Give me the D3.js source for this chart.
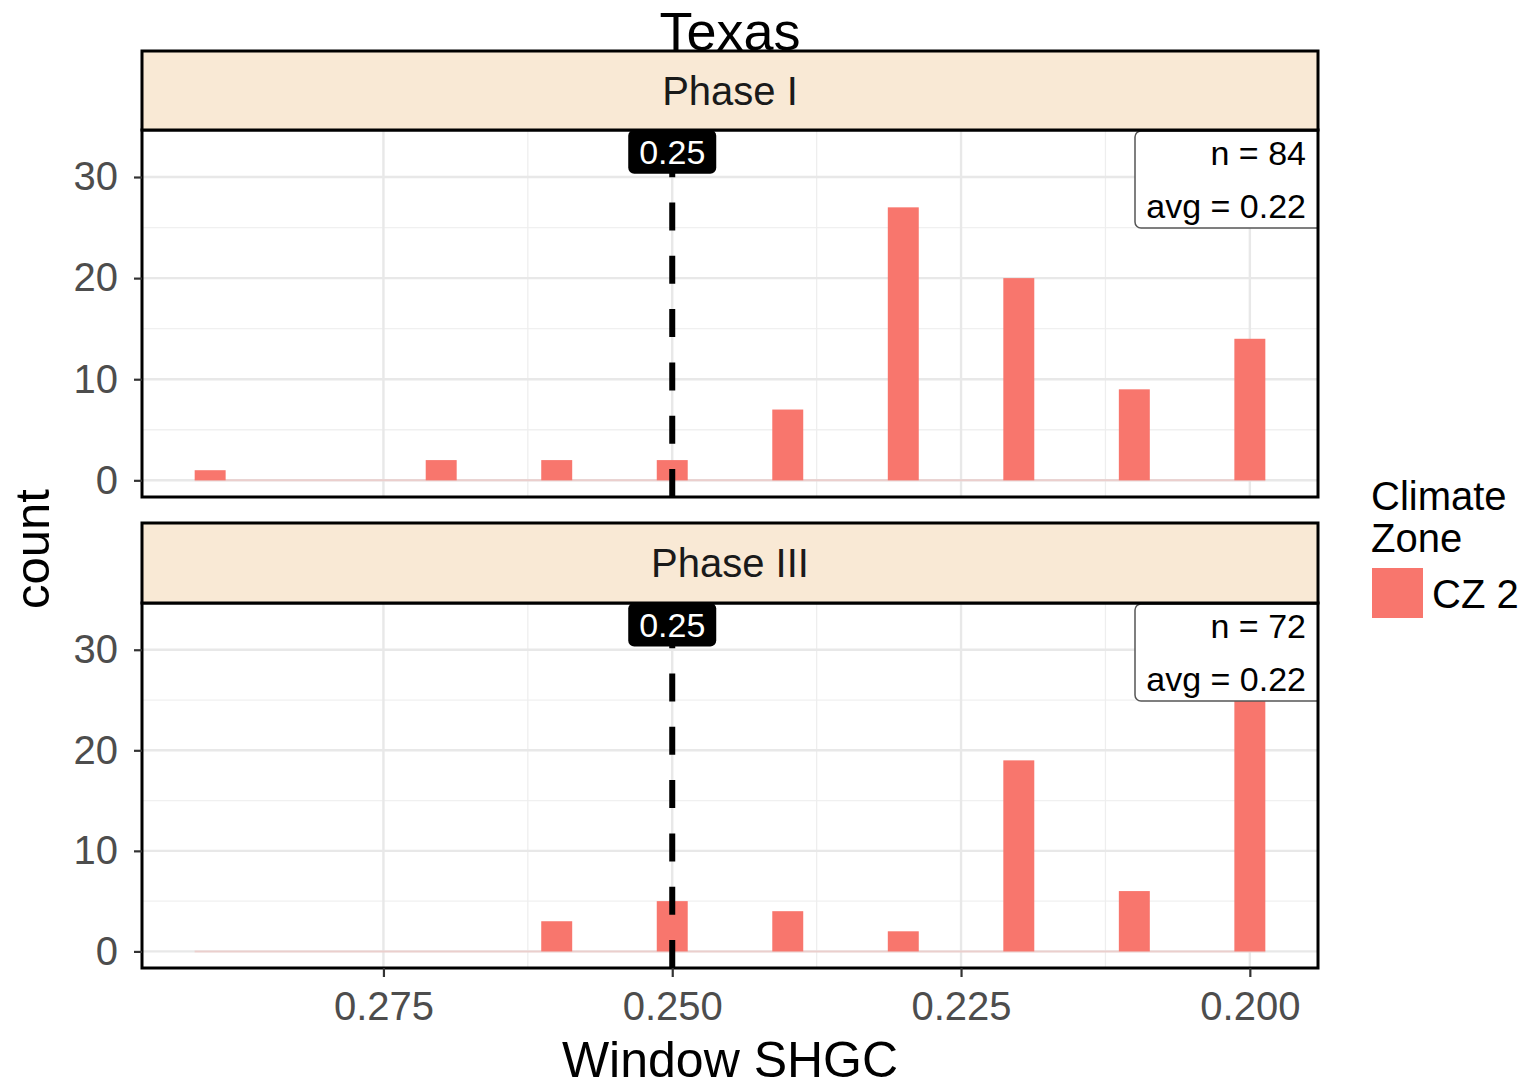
<!DOCTYPE html>
<html>
<head>
<meta charset="utf-8">
<script src="https://cdn.jsdelivr.net/npm/d3@7"></script>
<style>
  html, body { margin: 0; padding: 0; background: #fff; }
  svg { display: block; font-family: "Liberation Sans", Arial, sans-serif; }
</style>
</head>
<body>
<svg id="chart" width="1527" height="1089"></svg>
<script>
// Window SHGC histogram, Texas, faceted by code phase
const shgcBins = [0.29, 0.28, 0.27, 0.26, 0.25, 0.24, 0.23, 0.22, 0.21, 0.20];
const phaseNames = ["Phase I", "Phase III"];
const countsPhaseI = [1, 0, 2, 2, 2, 7, 27, 20, 9, 14];
const countsPhaseIII = [0, 0, 0, 3, 5, 4, 2, 19, 6, 33];
const codeLimit = 0.25;
const xTicks = [0.275, 0.250, 0.225, 0.200];
const xMinor = [0.2625, 0.2375, 0.2125];
const yTicks = [0, 10, 20, 30];
const yMinor = [5, 15, 25];
const legendTitle = ["Climate", "Zone"];
const legendLabel = "CZ 2";

const panels = [
  { name: phaseNames[0], counts: countsPhaseI, stripTop: 51, top: 130, bottom: 497 },
  { name: phaseNames[1], counts: countsPhaseIII, stripTop: 523, top: 603, bottom: 968 }
];

const fill = "#F8766D";
const left = 142, right = 1318;
const halfW = 0.00134;

const svg = d3.select("#chart");
const defs = svg.append("defs");
const x = d3.scaleLinear().domain([0.2959, 0.1941]).range([left, right]);

panels.forEach((p, pi) => {
  const y = d3.scaleLinear().domain([-1.65, 34.65]).range([p.bottom, p.top]);
  const g = svg.append("g");
  const n = d3.sum(p.counts);
  const avg = d3.sum(p.counts, (c, i) => c * shgcBins[i]) / n;

  const clipId = "panel-clip-" + pi;
  defs.append("clipPath").attr("id", clipId).append("rect")
    .attr("x", left).attr("y", p.top).attr("width", right - left).attr("height", p.bottom - p.top);
  const inner = g.append("g").attr("clip-path", `url(#${clipId})`);

  // panel background
  inner.append("rect").attr("x", left).attr("y", p.top)
    .attr("width", right - left).attr("height", p.bottom - p.top).attr("fill", "#fff");

  // minor grid
  inner.selectAll(".ymin").data(yMinor).join("line")
    .attr("x1", left).attr("x2", right).attr("y1", d => y(d)).attr("y2", d => y(d))
    .attr("stroke", "#f0f0f0").attr("stroke-width", 1.3);
  inner.selectAll(".xmin").data(xMinor).join("line")
    .attr("y1", p.top).attr("y2", p.bottom).attr("x1", d => x(d)).attr("x2", d => x(d))
    .attr("stroke", "#eeeeee").attr("stroke-width", 1.3);
  // major grid
  inner.selectAll(".ymaj").data(yTicks).join("line")
    .attr("x1", left).attr("x2", right).attr("y1", d => y(d)).attr("y2", d => y(d))
    .attr("stroke", "#e8e8e8").attr("stroke-width", 2.4);
  inner.selectAll(".xmaj").data(xTicks).join("line")
    .attr("y1", p.top).attr("y2", p.bottom).attr("x1", d => x(d)).attr("x2", d => x(d))
    .attr("stroke", "#e8e8e8").attr("stroke-width", 2.4);

  // empty bins show as a flat line along zero
  inner.append("line")
    .attr("x1", x(shgcBins[0] + halfW)).attr("x2", x(shgcBins[shgcBins.length - 1] - halfW))
    .attr("y1", y(0)).attr("y2", y(0))
    .attr("stroke", fill).attr("stroke-opacity", 0.22).attr("stroke-width", 2);

  // bars
  inner.selectAll(".bar").data(shgcBins.map((b, i) => ({ b, c: p.counts[i] })).filter(d => d.c > 0))
    .join("rect")
    .attr("x", d => x(d.b + halfW))
    .attr("width", d => x(d.b - halfW) - x(d.b + halfW))
    .attr("y", d => y(d.c))
    .attr("height", d => y(0) - y(d.c))
    .attr("fill", fill);

  // code limit line
  inner.append("line")
    .attr("x1", x(codeLimit)).attr("x2", x(codeLimit))
    .attr("y1", p.bottom).attr("y2", p.top)
    .attr("stroke", "#000").attr("stroke-width", 6)
    .attr("stroke-dasharray", "28 25.3");

  // limit label
  const ly = y(32.5);
  inner.append("rect")
    .attr("x", x(codeLimit) - 44).attr("y", ly - 22)
    .attr("width", 88).attr("height", 44).attr("rx", 6)
    .attr("fill", "#000");
  inner.append("text")
    .attr("x", x(codeLimit)).attr("y", ly + 12)
    .attr("text-anchor", "middle").attr("font-size", 34).attr("fill", "#fff")
    .text(codeLimit.toFixed(2));

  // n / avg box
  inner.append("rect")
    .attr("x", 1135).attr("y", p.top + 1)
    .attr("width", right - 1135 + 8).attr("height", 97).attr("rx", 6)
    .attr("fill", "#fff").attr("stroke", "#555").attr("stroke-width", 1.5);
  inner.append("text").attr("x", 1306).attr("y", p.top + 35)
    .attr("text-anchor", "end").attr("font-size", 34).attr("fill", "#000")
    .text("n = " + n);
  inner.append("text").attr("x", 1306).attr("y", p.top + 88)
    .attr("text-anchor", "end").attr("font-size", 34).attr("fill", "#000")
    .text("avg = " + avg.toFixed(2));

  // panel border
  g.append("rect").attr("x", left).attr("y", p.top)
    .attr("width", right - left).attr("height", p.bottom - p.top)
    .attr("fill", "none").attr("stroke", "#000").attr("stroke-width", 3);

  // strip
  g.append("rect").attr("x", left).attr("y", p.stripTop)
    .attr("width", right - left).attr("height", p.top - p.stripTop)
    .attr("fill", "#f9e9d5").attr("stroke", "#000").attr("stroke-width", 3);
  g.append("text")
    .attr("x", (left + right) / 2).attr("y", (p.stripTop + p.top) / 2 + 14)
    .attr("text-anchor", "middle").attr("font-size", 40).attr("fill", "#1a1a1a")
    .text(p.name);

  // y axis
  const ya = g.append("g").attr("transform", `translate(${left},0)`)
    .call(d3.axisLeft(y).tickValues(yTicks).tickSize(8).tickPadding(16).tickFormat(d3.format("d")));
  ya.select(".domain").remove();
  ya.selectAll(".tick line").attr("stroke", "#333").attr("stroke-width", 2.2);
  ya.selectAll(".tick text").attr("font-size", 40).attr("fill", "#4d4d4d")
    .attr("font-family", "Liberation Sans, Arial, sans-serif");
});

// x axis under the lower panel
const xa = svg.append("g").attr("transform", `translate(0,${panels[1].bottom})`)
  .call(d3.axisBottom(x).tickValues(xTicks).tickSize(9).tickPadding(15).tickFormat(d3.format(".3f")));
xa.select(".domain").remove();
xa.selectAll(".tick line").attr("stroke", "#333").attr("stroke-width", 2.2);
xa.selectAll(".tick text").attr("font-size", 40).attr("fill", "#4d4d4d")
  .attr("font-family", "Liberation Sans, Arial, sans-serif");

// titles (drawn last so the main title sits above the strip edge)
svg.append("text").attr("x", 730).attr("y", 50)
  .attr("text-anchor", "middle").attr("font-size", 54).attr("fill", "#000").text("Texas");
svg.append("text").attr("x", 730).attr("y", 1077)
  .attr("text-anchor", "middle").attr("font-size", 50).attr("fill", "#000").text("Window SHGC");
svg.append("text").attr("transform", "translate(49,549) rotate(-90)")
  .attr("text-anchor", "middle").attr("font-size", 49).attr("fill", "#000").text("count");

// legend
const lg = svg.append("g");
lg.selectAll(".lt").data(legendTitle).join("text")
  .attr("x", 1371).attr("y", (d, i) => 510 + i * 42)
  .attr("font-size", 40).attr("fill", "#000").text(d => d);
lg.append("rect").attr("x", 1372).attr("y", 568).attr("width", 51).attr("height", 50).attr("fill", fill);
lg.append("text").attr("x", 1432).attr("y", 608).attr("font-size", 40).attr("fill", "#000").text(legendLabel);
</script>
</body>
</html>
